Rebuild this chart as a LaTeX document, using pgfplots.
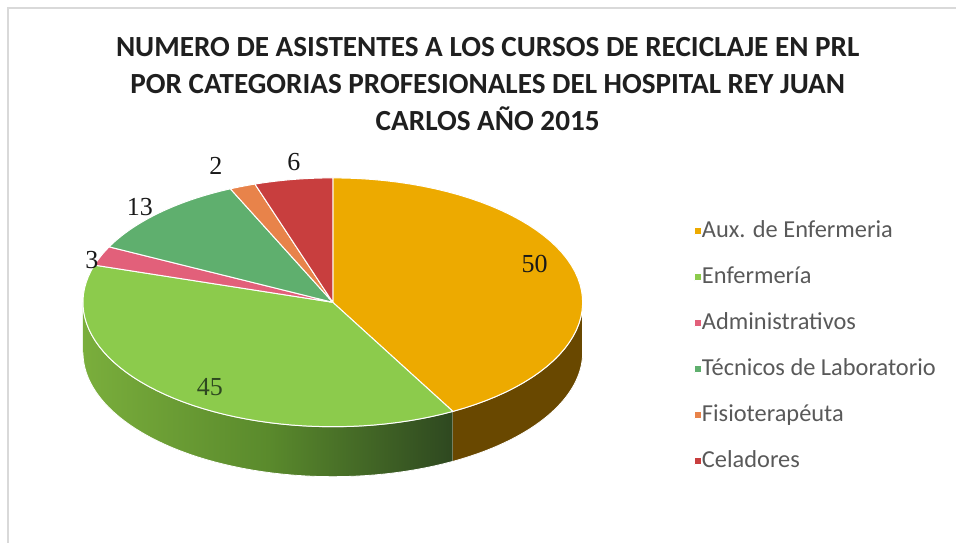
\documentclass[border=0pt]{standalone}
\usepackage{fontspec}
\setmainfont{Carlito}
\newfontfamily\numfont{Liberation Serif}
\usepackage{pgfplots}
\pgfplotsset{compat=1.18}
\definecolor{cAux}{HTML}{EDAA00}
\definecolor{cEnf}{HTML}{8CCB4C}
\definecolor{cAdm}{HTML}{E2607A}
\definecolor{cTec}{HTML}{5FAF6E}
\definecolor{cFis}{HTML}{E8834A}
\definecolor{cCel}{HTML}{C83E3E}
\definecolor{cAuxW}{HTML}{694800}
\definecolor{cEnfWl}{HTML}{7AAE3C}
\definecolor{cEnfWm}{HTML}{5A8A2C}
\definecolor{cEnfWr}{HTML}{2E4820}
\definecolor{legtxt}{HTML}{595959}
\definecolor{frame}{HTML}{D9D9D9}
% data (number of attendees)
\def\vA{50}% Aux. de Enfermeria
\def\vB{45}% Enfermeria
\def\vC{3}%  Administrativos
\def\vD{13}% Tecnicos de Laboratorio
\def\vE{2}%  Fisioterapeuta
\def\vF{6}%  Celadores
\pgfmathsetmacro\tot{\vA+\vB+\vC+\vD+\vE+\vF}
\pgfmathsetmacro\aA{90}
\pgfmathsetmacro\aB{\aA-360*(\vA/\tot)}
\pgfmathsetmacro\aC{\aB-360*(\vB/\tot)}
\pgfmathsetmacro\aD{\aC-360*(\vC/\tot)}
\pgfmathsetmacro\aE{\aD-360*(\vD/\tot)}
\pgfmathsetmacro\aF{\aE-360*(\vE/\tot)}
\pgfmathsetmacro\aG{\aF-360*(\vF/\tot)}
% geometry (pixels)
\def\cx{333}\def\cy{302.5}\def\rx{250}\def\ry{124.5}\def\dep{50}
\newcommand\slice[3]{%
\addplot[fill=#3, draw=white, line width=0.5pt, line join=round, domain=-0.02:1.02, samples=53, variable=\s]
 ({\cx+\rx*(\s>-0.01)*(\s<1.01)*cos((#1)+((#2)-(#1))*max(0,min(1,\s)))},
  {\cy-\ry*(\s>-0.01)*(\s<1.01)*sin((#1)+((#2)-(#1))*max(0,min(1,\s)))});}
\newcommand\wall[3]{%
\addplot[#3, draw=white, line width=0.4pt, domain=0:2.2, samples=111, variable=\s, forget plot]
 ({\cx+\rx*cos((#1)+((#2)-(#1))*ifthenelse(\s<1.05,min(\s,1),max(0,min(1,2.1-\s))))},
  {\cy-\ry*sin((#1)+((#2)-(#1))*ifthenelse(\s<1.05,min(\s,1),max(0,min(1,2.1-\s))))+ifthenelse(\s<1.05,0,\dep)});}
\begin{document}
\begin{tikzpicture}
\begin{axis}[
  scale only axis, width=478.5pt, height=271.5pt,
  xmin=0, xmax=957, ymin=0, ymax=543, y dir=reverse,
  hide axis, clip=false,
  legend image code/.code={\fill[#1] (0pt,-1.75pt) rectangle (3.5pt,1.75pt);},
  legend cell align=left,
  legend style={at={(axis cs:688,216)}, anchor=north west, draw=none, fill=none,
    font=\fontsize{12.2}{14}\selectfont, text=legtxt, row sep=12pt, column sep=0pt,
    nodes={inner sep=0pt, text height=8.5pt, text depth=2.5pt}},
]
\addplot[draw=none, forget plot] coordinates {(0,0) (957,543)};
% side walls
\wall{-180}{\aB}{left color=cEnfWl, right color=cEnfWr, middle color=cEnfWm}
\wall{\aB}{0}{fill=cAuxW}
% top faces
\slice{\aA}{\aB}{cAux}\addlegendentry{Aux. de Enfermeria}
\slice{\aB}{\aC}{cEnf}\addlegendentry{Enfermería}
\slice{\aC}{\aD}{cAdm}\addlegendentry{Administrativos}
\slice{\aD}{\aE}{cTec}\addlegendentry{Técnicos de Laboratorio}
\slice{\aE}{\aF}{cFis}\addlegendentry{Fisioterapéuta}
\slice{\aF}{\aG}{cCel}\addlegendentry{Celadores}
% frame
\draw[frame, line width=0.6pt] (axis cs:8,543) -- (axis cs:8,8) -- (axis cs:957,8);
% title
\node[align=center, font=\fontsize{14.6}{18.5}\selectfont\bfseries, text=black!88] at (axis cs:488,84)
 {NUMERO DE ASISTENTES A LOS CURSOS DE RECICLAJE EN PRL\\POR CATEGORIAS PROFESIONALES DEL HOSPITAL REY JUAN\\CARLOS AÑO 2015};
% data labels
\begin{scope}[every node/.style={font=\numfont\fontsize{13}{15}\selectfont, inner sep=0pt}]
\node[text=black!90] at (axis cs:535,264) {50};
\node[text=cEnfWr] at (axis cs:210,387) {45};
\node[text=black!90] at (axis cs:92,260) {3};
\node[text=black!90] at (axis cs:140,207) {13};
\node[text=black!90] at (axis cs:216,166) {2};
\node[text=black!90] at (axis cs:294,162) {6};
\end{scope}
\end{axis}
\end{tikzpicture}
\end{document}
